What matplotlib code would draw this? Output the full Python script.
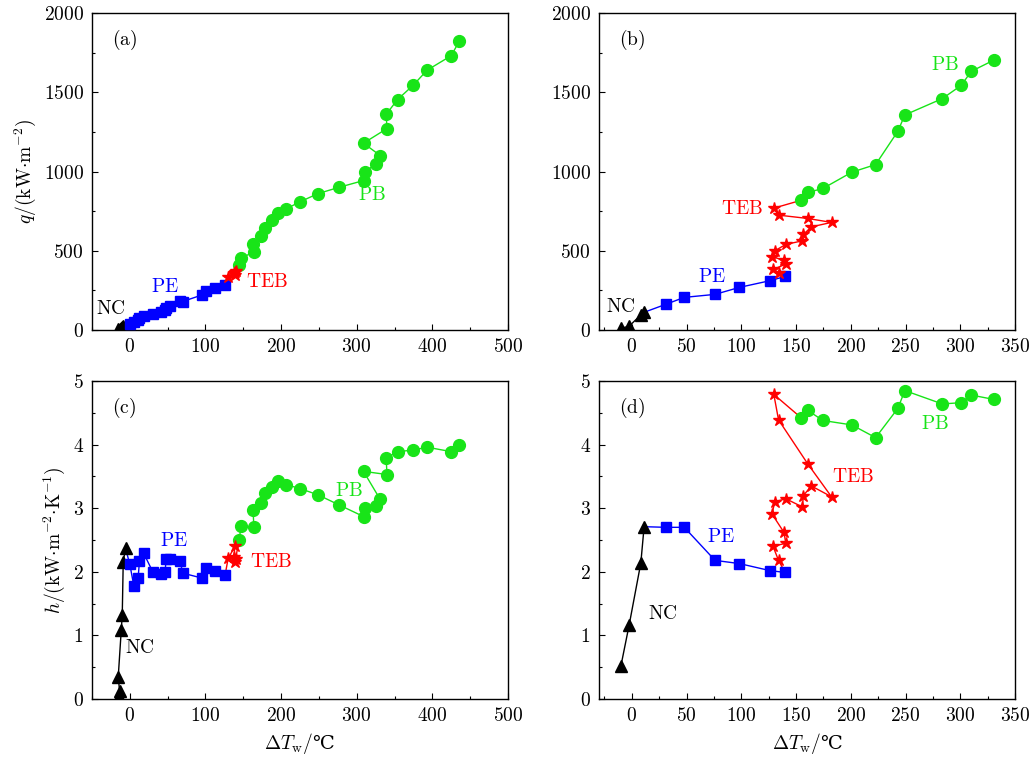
"""
Boiling curves q(dTw) and h(dTw) for two cases, four panels (a)-(d).
"""
import matplotlib
matplotlib.use("Agg")
import matplotlib.pyplot as plt
from matplotlib.ticker import MultipleLocator, FuncFormatter

plt.rcParams["mathtext.fontset"] = "cm"
plt.rcParams["font.family"] = ["DejaVu Serif"]

# ---- left case, panels (a) and (c) ----
nc_x_l = [-14, -13.5, -15.3, -11.3, -10, -8.7, -5.7]
nc_q_l = [2, 4, 6, 14, 17, 24, 28]
nc_h_l = [0.05, 0.12, 0.35, 1.085, 1.32, 2.16, 2.37]

pe_x_l = [0, 5.3, 11, 12.8, 18.4, 30.8, 41.3, 47, 47.5, 53, 66.7, 69.8, 96, 101, 112.8, 126]
pe_q_l = [36, 48, 62, 74, 90, 101, 114, 126, 140, 153, 185, 180, 222, 246, 264, 286]
pe_h_l = [2.12, 1.78, 1.91, 2.17, 2.29, 1.99, 1.96, 1.99, 2.20, 2.20, 2.17, 1.98, 1.90, 2.06, 2.01, 1.95]

teb_x_l = [130, 139, 137.5, 141, 139]
teb_q_l = [332, 348, 362, 372, 366]
teb_h_l = [2.21, 2.40, 2.23, 2.20, 2.16]

pb_x_l = [144.7, 147, 164, 163, 174, 179, 188, 196, 207, 225, 249, 277, 309, 310.5,
          325, 331, 309, 340, 339, 354, 375, 393, 425, 435.5]
pb_q_l = [410, 452, 494, 542, 592, 641, 693, 739, 765, 809, 861, 901, 943, 996,
          1048, 1101, 1179, 1271, 1361, 1454, 1546, 1639, 1731, 1821]
pb_h_l = [2.50, 2.725, 2.70, 2.98, 3.08, 3.24, 3.33, 3.43, 3.37, 3.31, 3.21, 3.05, 2.87, 3.01,
          3.03, 3.14, 3.58, 3.53, 3.79, 3.89, 3.915, 3.96, 3.89, 3.99]

# ---- right case, panels (b) and (d) ----
nc_x_r = [-10, -2.4, 8.2, 11.2]
nc_q_r = [10, 25, 95, 112]
nc_h_r = [0.52, 1.17, 2.14, 2.71]

pe_x_r = [30.9, 47.9, 76, 98.2, 126, 140]
pe_q_r = [162, 206, 225, 269, 311, 338]
pe_h_r = [2.70, 2.70, 2.18, 2.13, 2.02, 1.99]

teb_x_r = [134, 129, 140.6, 139, 128, 130.6, 140.6, 155.8, 156.7, 164, 182.4, 160.6, 134, 129.7]
teb_q_r = [361, 382, 416, 441, 462, 500, 540, 563, 603, 651, 679, 704, 725, 769]
teb_h_r = [2.18, 2.40, 2.45, 2.62, 2.91, 3.10, 3.15, 3.02, 3.20, 3.35, 3.18, 3.70, 4.39, 4.79]

pb_x_r = [154.8, 160.6, 174.5, 201, 222.7, 243, 249.4, 283.6, 301, 310, 331]
pb_q_r = [819, 868, 893, 996, 1044, 1254, 1357, 1460, 1544, 1632, 1704]
pb_h_r = [4.42, 4.54, 4.38, 4.31, 4.11, 4.57, 4.85, 4.64, 4.66, 4.78, 4.71]

GREEN = "#18e418"
BLUE = "#0000ff"
RED = "#ff0000"
FS = 14


def draw_panel(ax, nc, pe, teb, pb):
    # nc/pe/teb/pb are (x, y) pairs; connectors take the colour of the following regime
    ax.plot(nc[0], nc[1], color="black", lw=1.0, zorder=2)
    ax.plot([nc[0][-1]] + pe[0], [nc[1][-1]] + pe[1], color=BLUE, lw=1.0, zorder=2)
    ax.plot([pe[0][-1]] + teb[0] + [pb[0][0]], [pe[1][-1]] + teb[1] + [pb[1][0]],
            color=RED, lw=1.0, zorder=2)
    ax.plot(pb[0], pb[1], color=GREEN, lw=1.0, zorder=2)

    ax.plot(nc[0], nc[1], ls="none", marker="^", ms=8, color="black", zorder=3)
    ax.plot(pe[0], pe[1], ls="none", marker="s", ms=7, color=BLUE, zorder=3)
    ax.plot(teb[0], teb[1], ls="none", marker="*", ms=9, color=RED, zorder=4)
    ax.plot(pb[0], pb[1], ls="none", marker="o", ms=8.5, color=GREEN, zorder=3)


def style_axes(ax, xmajor, xminor, ymajor, yminor):
    ax.xaxis.set_major_locator(MultipleLocator(xmajor))
    ax.xaxis.set_minor_locator(MultipleLocator(xminor))
    ax.yaxis.set_major_locator(MultipleLocator(ymajor))
    ax.yaxis.set_minor_locator(MultipleLocator(yminor))
    fmt = FuncFormatter(lambda v, p: r"$\mathrm{%g}$" % v)
    ax.xaxis.set_major_formatter(fmt)
    ax.yaxis.set_major_formatter(fmt)
    ax.tick_params(which="both", direction="in", top=False, right=False, labelsize=FS)
    ax.tick_params(which="major", length=4, width=0.8, pad=6)
    ax.tick_params(which="minor", length=2.5, width=0.8)
    for s in ax.spines.values():
        s.set_linewidth(1.0)


fig = plt.figure(figsize=(10.36, 7.58), dpi=100)
ax_a = fig.add_axes([0.0888, 0.5646, 0.4015, 0.4182])
ax_b = fig.add_axes([0.5782, 0.5646, 0.4015, 0.4182])
ax_c = fig.add_axes([0.0888, 0.0778, 0.4015, 0.4195])
ax_d = fig.add_axes([0.5782, 0.0778, 0.4015, 0.4195])

draw_panel(ax_a, (nc_x_l, nc_q_l), (pe_x_l, pe_q_l), (teb_x_l, teb_q_l), (pb_x_l, pb_q_l))
draw_panel(ax_b, (nc_x_r, nc_q_r), (pe_x_r, pe_q_r), (teb_x_r, teb_q_r), (pb_x_r, pb_q_r))
draw_panel(ax_c, (nc_x_l, nc_h_l), (pe_x_l, pe_h_l), (teb_x_l, teb_h_l), (pb_x_l, pb_h_l))
draw_panel(ax_d, (nc_x_r, nc_h_r), (pe_x_r, pe_h_r), (teb_x_r, teb_h_r), (pb_x_r, pb_h_r))

for ax in (ax_a, ax_c):
    ax.set_xlim(-50, 500)
    style_axes(ax, 100, 50, 1, 0.5)
for ax in (ax_b, ax_d):
    ax.set_xlim(-30, 350)
    style_axes(ax, 50, 25, 1, 0.5)
for ax in (ax_a, ax_b):
    ax.set_ylim(0, 2000)
    ax.yaxis.set_major_locator(MultipleLocator(500))
    ax.yaxis.set_minor_locator(MultipleLocator(250))
for ax in (ax_c, ax_d):
    ax.set_ylim(0, 5)

ax_a.set_ylabel(r"$q/(\mathrm{kW{\cdot}m^{-2}})$", fontsize=FS)
ax_c.set_ylabel(r"$h/(\mathrm{kW{\cdot}m^{-2}{\cdot}K^{-1}})$", fontsize=FS)
ax_c.set_xlabel(r"$\Delta T_{\mathrm{w}}/$℃", fontsize=FS)
ax_d.set_xlabel(r"$\Delta T_{\mathrm{w}}/$℃", fontsize=FS)

for ax, tag in zip((ax_a, ax_b, ax_c, ax_d), "abcd"):
    ax.text(0.047, 0.915, r"$\mathrm{(%s)}$" % tag, transform=ax.transAxes,
            fontsize=FS, ha="left", va="center")

# regime labels
ax_a.text(-45, 130, r"$\mathrm{NC}$", fontsize=FS, ha="left", va="center")
ax_a.text(47, 270, r"$\mathrm{PE}$", color=BLUE, fontsize=FS, ha="center", va="center")
ax_a.text(153, 300, r"$\mathrm{TEB}$", color=RED, fontsize=FS, ha="left", va="center")
ax_a.text(320, 855, r"$\mathrm{PB}$", color=GREEN, fontsize=FS, ha="center", va="center")

ax_b.text(-10, 147, r"$\mathrm{NC}$", fontsize=FS, ha="center", va="center")
ax_b.text(73, 334, r"$\mathrm{PE}$", color=BLUE, fontsize=FS, ha="center", va="center")
ax_b.text(101, 762, r"$\mathrm{TEB}$", color=RED, fontsize=FS, ha="center", va="center")
ax_b.text(286, 1670, r"$\mathrm{PB}$", color=GREEN, fontsize=FS, ha="center", va="center")

ax_c.text(-6, 0.81, r"$\mathrm{NC}$", fontsize=FS, ha="left", va="center")
ax_c.text(58, 2.49, r"$\mathrm{PE}$", color=BLUE, fontsize=FS, ha="center", va="center")
ax_c.text(159, 2.15, r"$\mathrm{TEB}$", color=RED, fontsize=FS, ha="left", va="center")
ax_c.text(290, 3.27, r"$\mathrm{PB}$", color=GREEN, fontsize=FS, ha="center", va="center")

ax_d.text(28, 1.34, r"$\mathrm{NC}$", fontsize=FS, ha="center", va="center")
ax_d.text(81, 2.55, r"$\mathrm{PE}$", color=BLUE, fontsize=FS, ha="center", va="center")
ax_d.text(202, 3.49, r"$\mathrm{TEB}$", color=RED, fontsize=FS, ha="center", va="center")
ax_d.text(277, 4.32, r"$\mathrm{PB}$", color=GREEN, fontsize=FS, ha="center", va="center")

fig.savefig("out.png", dpi=100)
